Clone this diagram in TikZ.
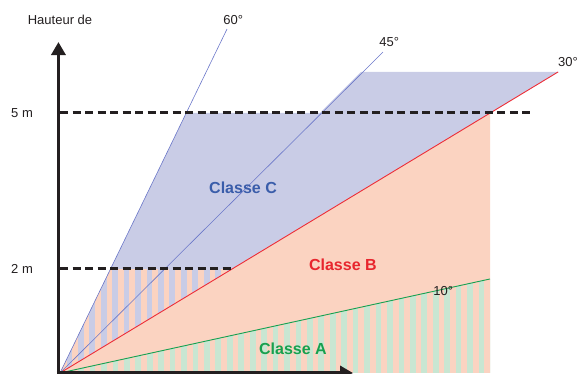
\documentclass[tikz,border=0pt]{standalone}
\usepackage{fontspec}
\setmainfont{Liberation Sans}
\usetikzlibrary{arrows.meta}
\usetikzlibrary{calc}

\definecolor{lavande}{HTML}{C9CCE6}
\definecolor{saumon}{HTML}{FBD3C1}
\definecolor{menthe}{HTML}{C8E6D2}
\definecolor{bleuray}{HTML}{6B77C9}
\definecolor{rougeray}{HTML}{EE2D36}
\definecolor{vertray}{HTML}{17A050}
\definecolor{bleuC}{HTML}{3A5DAA}
\definecolor{rougeB}{HTML}{E8262E}
\definecolor{vertA}{HTML}{17A04E}
\definecolor{texte}{HTML}{231F20}

\begin{document}
\begin{tikzpicture}[x=52pt,y=52pt,
    legende/.style={text=texte,font=\fontsize{13}{13}\selectfont},
    classe/.style={font=\fontsize{16}{16}\selectfont\bfseries},
    niveau/.style={draw=texte,line width=3pt,dash pattern=on 8pt off 4.5pt},
    axe/.style={draw=texte,line width=3.5pt,-{Triangle[length=13pt,width=14pt]}}]
      \useasboundingbox (-1.154,-0.0192) rectangle (9.981,7.1731);

      % points
      \coordinate (O) at (0,0);
      \coordinate (r60) at (3.212,6.615);
      \coordinate (r45) at (6.21,6.17);
      \coordinate (r30) at (9.58,5.79);
      \coordinate (r10) at (8.27,1.808);
      \coordinate (h5) at (0,5);
      \coordinate (h5fin) at (9.096,5);
      \coordinate (h2) at (0,2);
      \coordinate (h2fin) at (3.35,2);

      % zones
      \fill[saumon] (O) -- (8.27,5) -- (8.27,0) -- cycle;
      \fill[lavande] (O) -- (2.427,5) -- (5,5) -- (5.79,5.79) -- (r30) -- cycle;

      % stripes below 2 m
      \begin{scope}
        \clip (O) -- (0.971,2) -- (3.308,2) -- cycle;
        \fill[saumon] (O) rectangle (3.4,2);
        \foreach \i in {0,...,15}
        \fill[lavande] ({0.125+0.22*\i},0) rectangle ++(0.11,2);
      \end{scope}

      % stripes class A
      \begin{scope}
        \clip (O) -- (r10) -- (8.27,0) -- cycle;
        \foreach \i in {0,...,37}
        \fill[menthe] ({0.13+0.22*\i},0) rectangle ++(0.11,2);
      \end{scope}

      % rays
      \draw[bleuray, line width=0.6pt] (O) -- (r60);
      \draw[bleuray, line width=0.6pt] (O) -- (r45);
      \draw[rougeray, line width=0.9pt] (O) -- (r30);
      \draw[vertray, line width=0.9pt] (O) -- (r10);

      % levels
      \draw[niveau] (h5) -- (h5fin);
      \draw[niveau] (h2) -- (h2fin);

      % axes
      \draw[axe] (-0.03,-0.02) -- (-0.03,6.365);
      \draw[axe] (-0.06,0) -- (5.635,0);

      % labels
      \node[legende] (titre) at (0,6.79) {Hauteur de};
      \node[legende] (l5) at (-0.73,5) {5 m};
      \node[legende] (l2) at (-0.73,2) {2 m};
      \node[legende] (a60) at (3.33,6.79) {60°};
      \node[legende] (a45) at (6.33,6.37) {45°};
      \node[legende] (a30) at (9.77,5.98) {30°};
      \node[legende] (a10) at (7.37,1.58) {10°};
      \node[classe, text=bleuC] (cC) at (3.52,3.56) {Classe C};
      \node[classe, text=rougeB] (cB) at (5.44,2.08) {Classe B};
      \node[classe, text=vertA] (cA) at (4.48,0.46) {Classe A};
\end{tikzpicture}
\end{document}
